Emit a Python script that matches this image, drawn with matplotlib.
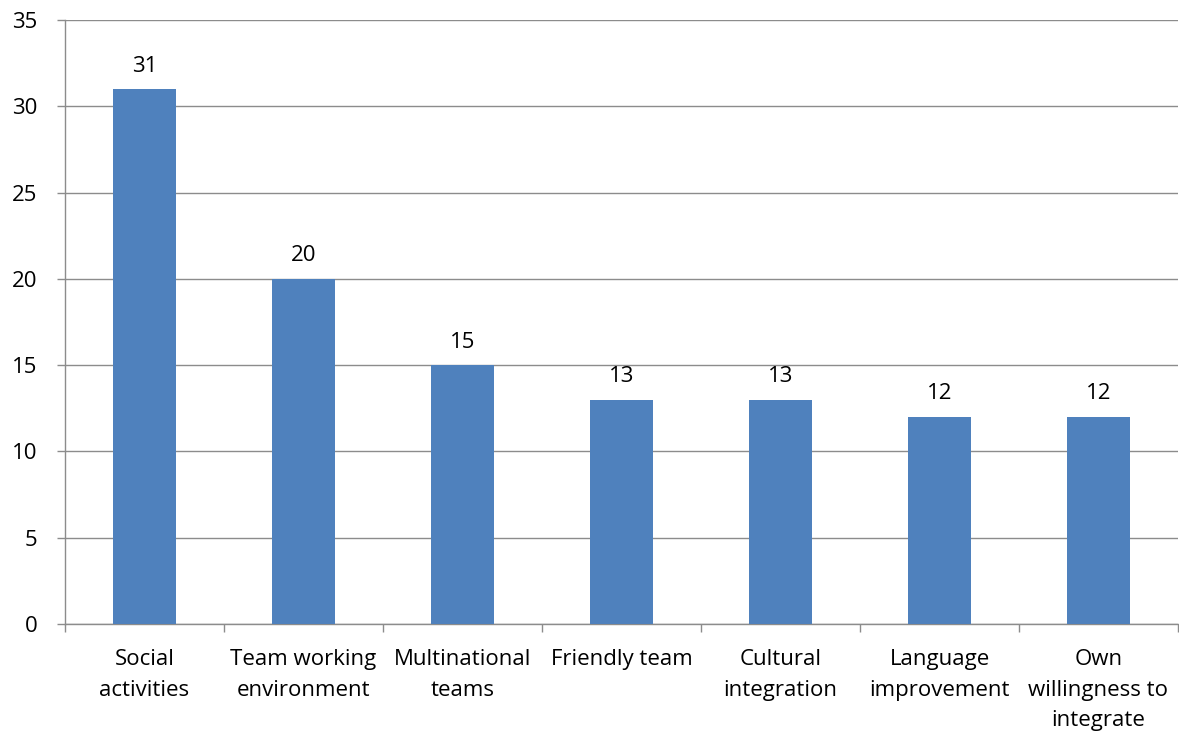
import matplotlib
matplotlib.use("Agg")
import matplotlib.pyplot as plt
import numpy as np

# data
categories = ["Social\nactivities", "Team working\nenvironment", "Multinational\nteams",
              "Friendly team", "Cultural\nintegration", "Language\nimprovement",
              "Own\nwillingness to\nintegrate"]
counts = [31, 20, 15, 13, 13, 12, 12]
y_ticks = [0, 5, 10, 15, 20, 25, 30, 35]

plt.rcParams['font.family'] = ['Open Sans', 'DejaVu Sans']
FS = 16

fig = plt.figure(figsize=(11.79, 7.35), dpi=100)
ax = fig.add_axes([65 / 1179, 1 - 624 / 735, (1178 - 65) / 1179, (624 - 20) / 735])

x = np.arange(len(categories))
ax.bar(x, counts, width=0.4, color="#4F81BD", zorder=3)

for xi, v in zip(x, counts):
    ax.annotate(str(v), (xi, v), xytext=(0, 9), textcoords="offset points",
                ha="center", va="bottom", fontsize=FS, color="black")

ax.set_xlim(-0.5, len(categories) - 0.5)
ax.set_ylim(0, 35)
ax.set_yticks(y_ticks)
ax.set_yticklabels([str(t) for t in y_ticks], fontsize=FS)
ax.yaxis.grid(True, color="#8c8c8c", linewidth=1, zorder=0)

# category labels centred, tick marks at the boundaries
ax.set_xticks(x)
ax.set_xticklabels(categories, fontsize=FS, linespacing=1.6)
ax.tick_params(axis="x", length=0, pad=18)
ax.set_xticks(np.arange(len(categories) + 1) - 0.5, minor=True)
ax.tick_params(axis="x", which="minor", length=6, color="#8c8c8c", width=1)
ax.tick_params(axis="y", length=6, color="#8c8c8c", width=1, pad=14)

for side in ["top", "right"]:
    ax.spines[side].set_visible(False)
for side in ["left", "bottom"]:
    ax.spines[side].set_color("#8c8c8c")
    ax.spines[side].set_linewidth(1)

fig.savefig("out.png", dpi=100)
